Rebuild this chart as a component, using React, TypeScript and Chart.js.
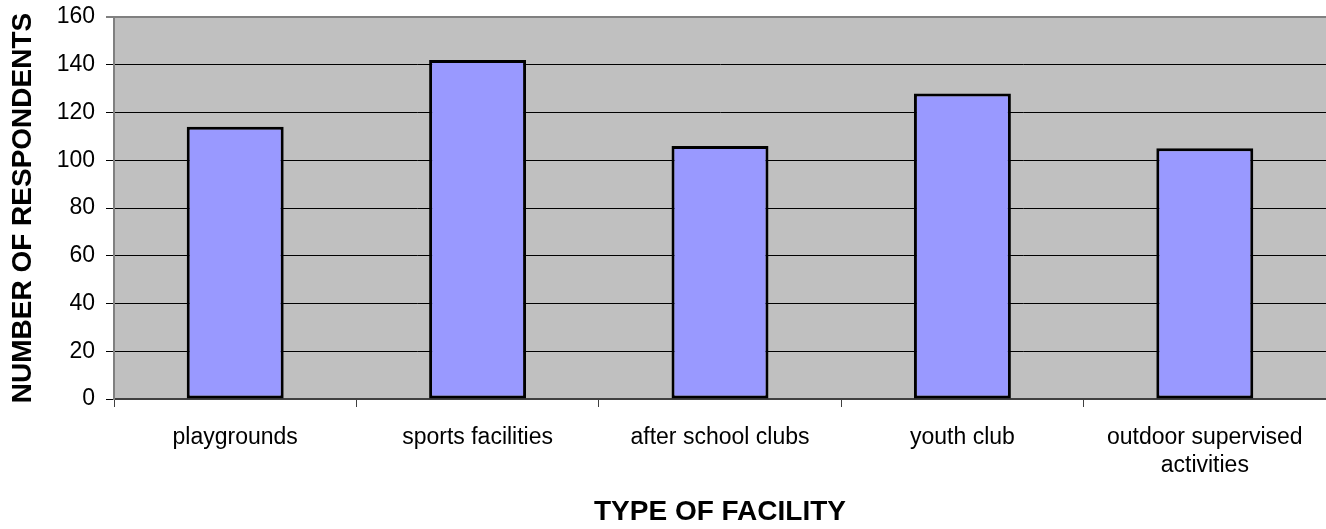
import React, { useEffect, useRef } from "react";
import { Chart, registerables } from "chart.js";

Chart.register(...registerables);

const categories: (string | string[])[] = [
  "playgrounds",
  "sports facilities",
  "after school clubs",
  "youth club",
  ["outdoor supervised", "activities"],
];
const respondents: number[] = [114, 142, 106, 128, 105];
const yTitle = "NUMBER OF RESPONDENTS";
const xTitle = "TYPE OF FACILITY";
const yMin = 0;
const yMax = 160;
const yStep = 20;

const FONT = "'Liberation Sans', Arial, Helvetica, sans-serif";

const plotBg = {
  id: "plotBg",
  beforeDraw(chart: any) {
    const { ctx, chartArea } = chart;
    if (!chartArea) return;
    ctx.save();
    ctx.fillStyle = "#C0C0C0";
    ctx.fillRect(chartArea.left, chartArea.top, chartArea.right - chartArea.left, chartArea.bottom - chartArea.top);
    ctx.restore();
  },
};

export default function App() {
  const ref = useRef<HTMLCanvasElement | null>(null);
  useEffect(() => {
    if (!ref.current) return;
    const chart = new Chart(ref.current, {
      type: "bar",
      data: {
        labels: categories,
        datasets: [
          {
            data: respondents,
            backgroundColor: "#9999FF",
            borderColor: "#000000",
            borderWidth: 3,
            borderSkipped: false,
            barPercentage: 0.4,
            categoryPercentage: 1,
          },
        ],
      },
      options: {
        animation: false,
        responsive: false,
        layout: { padding: { top: 17, right: 0, left: 0, bottom: 0 } },
        plugins: {
          legend: { display: false },
          tooltip: { enabled: false },
        },
        scales: {
          x: {
            offset: true,
            grid: {
              offset: true,
              drawOnChartArea: false,
              drawTicks: true,
              tickLength: 8,
              color: "#404040",
            },
            border: { color: "#404040", width: 2 },
            ticks: {
              color: "#000",
              font: { family: FONT, size: 23 },
              padding: 17,
              maxRotation: 0,
              autoSkip: false,
            },
            title: {
              display: true,
              text: xTitle,
              color: "#000",
              font: { family: FONT, size: 28, weight: "bold" },
              padding: { top: 0, bottom: 0 },
            },
            afterFit(scale: any) {
              scale.height = 130;
              scale.paddingLeft = 0;
              scale.paddingRight = 0;
            },
          },
          y: {
            min: yMin,
            max: yMax,
            grid: {
              color: (c: any) => (c.tick && c.tick.value === yMax ? "#808080" : "#000000"),
              lineWidth: (c: any) => (c.tick && c.tick.value === yMax ? 2 : 1),
              tickLength: 8,
            },
            border: { color: "#808080", width: 2 },
            ticks: {
              stepSize: yStep,
              color: "#000",
              font: { family: FONT, size: 23 },
              padding: 11,
            },
            title: {
              display: true,
              text: yTitle,
              color: "#000",
              font: { family: FONT, size: 28, weight: "bold" },
              padding: { top: 6, bottom: 0 },
            },
            afterFit(scale: any) {
              scale.width = 114;
              scale.paddingTop = 0;
              scale.paddingBottom = 0;
            },
          },
        },
      },
      plugins: [plotBg],
    });
    return () => chart.destroy();
  }, []);
  return (
    <div style={{ position: "absolute", left: 0, top: 0, width: 1326, height: 529, background: "#fff" }}>
      <canvas ref={ref} width={1326} height={529} />
    </div>
  );
}
